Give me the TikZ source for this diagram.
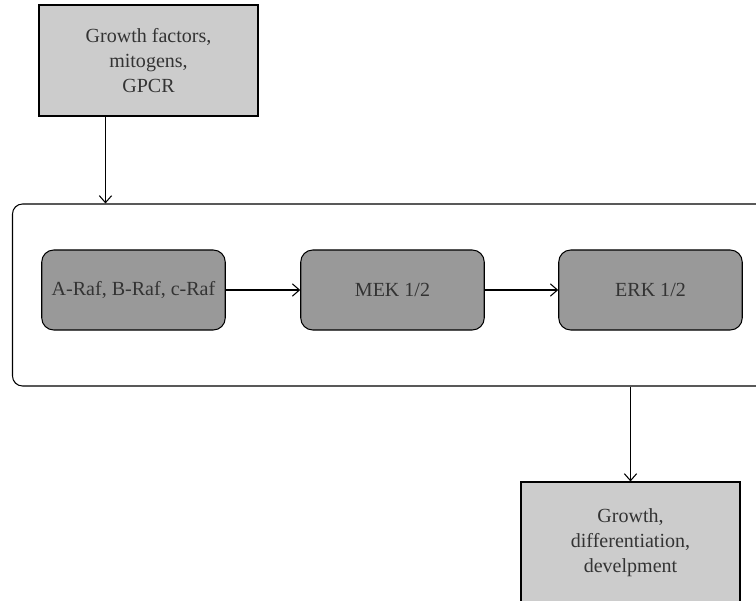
\documentclass[tikz,border=0pt]{standalone}
\usepackage{fontspec}
\setmainfont{Liberation Serif}
\usetikzlibrary{arrows.meta}
\begin{document}
\begin{tikzpicture}[
	font=\fontsize{11.4}{14.2}\selectfont, text=black!80, line width=0.6pt,
	outbox/.style={draw=black, fill=gray!40!white, align=center, inner sep=0pt},
	kinase/.style={draw=black, fill=gray!80!white, rounded corners=0.24cm, minimum width=3.67cm, minimum height=1.6cm, inner sep=0pt},
	flow/.style={-{Straight Barb[length=4pt,width=7pt]}}]
	\clip (0,0) rectangle (15.12,12);
	\node[outbox, minimum width=4.38cm, minimum height=2.22cm] (signal) at (2.97,10.79) {Growth factors,\\mitogens,\\GPCR};
	\node[draw=black, rounded corners=0.2cm, minimum width=15.54cm, minimum height=3.64cm] (cascade) at (8.02,6.1) {};
	\node[kinase] (raf) at (2.67,6.2) {A-Raf, B-Raf, c-Raf};
	\node[kinase] (mek) at (7.85,6.2) {MEK 1/2};
	\node[kinase] (erk) at (13.01,6.2) {ERK 1/2};
	\node[outbox, minimum width=4.38cm, minimum height=2.44cm] (response) at (12.61,1.14) {Growth,\\differentiation,\\develpment};
	\draw[flow] ([xshift=1.34cm]signal.south west) -- ([xshift=1.34cm]signal.south west |- cascade.north);
	\draw[flow] (raf) -- (mek);
	\draw[flow] (mek) -- (erk);
	\draw[flow] (cascade.south -| response.north) -- (response.north);
\end{tikzpicture}
\end{document}
